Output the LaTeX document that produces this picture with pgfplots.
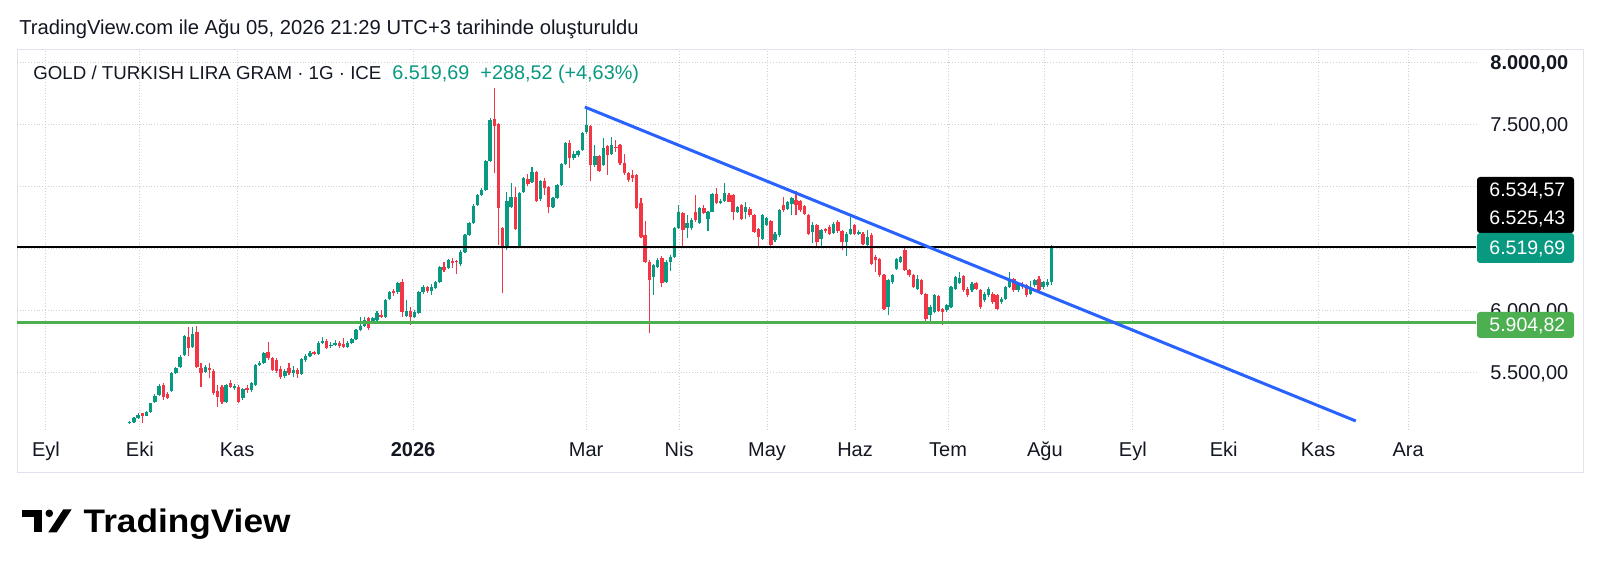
\documentclass[border=0pt]{standalone}
\usepackage{fontspec}
\setmainfont{Liberation Sans}
\usepackage{pgfplots}
\usepackage{pgfplotstable}
\pgfplotsset{compat=1.18}
\definecolor{tvgreen}{RGB}{8,153,129}
\definecolor{tvred}{RGB}{242,54,69}
\definecolor{tvblue}{RGB}{41,98,255}
\definecolor{hgreen}{RGB}{76,175,80}
\definecolor{tvtext}{RGB}{19,23,34}
\definecolor{gridc}{RGB}{205,208,216}
\definecolor{framec}{RGB}{224,227,235}

% up (green) candles: index open high low close
\pgfplotstableread{
i o h l c
20 5094 5115 5090 5108
21 5108 5145 5100 5135
22 5135 5175 5130 5162
24 5156 5195 5150 5188
25 5188 5262 5180 5255
26 5270 5330 5262 5317
27 5323 5410 5318 5395
30 5358 5510 5350 5503
31 5497 5545 5490 5537
32 5546 5645 5540 5632
33 5645 5810 5640 5798
35 5707 5874 5700 5812
38 5511 5565 5500 5551
43 5269 5410 5260 5403
45 5376 5410 5365 5395
47 5296 5380 5285 5368
49 5363 5425 5350 5417
50 5403 5575 5395 5565
51 5565 5595 5555 5584
52 5578 5670 5570 5659
57 5475 5535 5457 5520
59 5500 5560 5470 5525
61 5495 5620 5480 5610
62 5605 5650 5590 5640
63 5640 5675 5630 5664
65 5655 5755 5648 5745
66 5745 5790 5735 5761
68 5715 5750 5705 5728
69 5725 5770 5715 5740
72 5712 5755 5700 5745
73 5740 5785 5730 5774
74 5774 5855 5765 5845
75 5845 5954 5835 5880
76 5880 5950 5870 5930
78 5905 5955 5895 5940
79 5925 6000 5915 5987
81 5955 6100 5945 6089
82 6100 6165 6085 6156
84 6150 6237 6140 6229
86 5960 6090 5950 6000
88 5955 6010 5940 5990
89 5985 6165 5975 6150
90 6150 6210 6140 6196
92 6160 6220 6130 6190
93 6183 6240 6175 6231
94 6231 6360 6225 6352
96 6349 6420 6340 6411
99 6376 6490 6365 6478
100 6478 6620 6470 6613
101 6613 6715 6605 6707
102 6707 6860 6700 6849
103 6855 6945 6845 6935
104 6935 6990 6925 6976
105 6976 7220 6970 7209
106 7209 7560 7200 7540
110 6505 6960 6495 6887
111 6841 7029 6830 6922
113 6520 6960 6505 6949
114 6962 7080 6950 7070
116 7043 7164 7035 7124
118 6900 7060 6890 7050
121 6841 6920 6830 6909
122 6909 7025 6900 7016
123 7016 7195 7005 7183
124 7183 7365 7175 7352
126 7231 7290 7215 7270
127 7255 7300 7240 7290
128 7298 7440 7290 7433
129 7440 7645 7430 7500
131 7175 7340 7165 7250
133 7180 7395 7170 7315
135 7265 7400 7255 7340
145 6277 6380 6130 6371
146 6358 6425 6345 6411
148 6237 6410 6225 6398
149 6398 6450 6320 6438
150 6438 6680 6430 6667
151 6667 6855 6660 6801
153 6667 6775 6587 6707
154 6667 6750 6655 6734
156 6707 6840 6700 6828
158 6740 6810 6645 6801
159 6801 6950 6795 6941
161 6868 6900 6860 6887
162 6887 7030 6880 6949
165 6801 6850 6790 6841
167 6798 6878 6744 6838
171 6582 6780 6575 6771
172 6695 6760 6685 6749
174 6569 6635 6560 6623
175 6609 6820 6600 6811
177 6825 6890 6815 6878
178 6865 6920 6771 6910
183 6636 6717 6550 6690
185 6583 6660 6523 6650
188 6631 6715 6620 6703
191 6556 6635 6443 6623
192 6623 6757 6615 6663
194 6623 6650 6610 6640
196 6534 6650 6525 6596
201 6032 6255 5964 6247
202 6233 6300 6220 6287
203 6341 6430 6330 6421
204 6395 6445 6385 6435
208 6180 6287 6170 6260
211 5964 6045 5897 6032
212 5991 6135 5980 6126
215 6005 6055 5995 6045
216 6032 6200 6025 6193
217 6180 6280 6170 6273
218 6228 6314 6220 6266
221 6166 6230 6155 6220
224 6085 6150 6075 6139
225 6126 6190 6115 6180
228 6072 6110 6060 6099
229 6099 6200 6090 6193
230 6193 6314 6185 6260
232 6166 6230 6155 6220
235 6139 6240 6125 6193
236 6206 6260 6195 6247
238 6193 6245 6180 6233
239 6206 6260 6195 6231
240 6231 6534.57 6210 6519.69
}\up

% down (red) candles: index open high low close
\pgfplotstableread{
i o h l c
23 5175 5180 5095 5153
28 5403 5420 5285 5310
29 5330 5345 5290 5300
34 5788 5874 5637 5699
36 5833 5880 5540 5546
37 5538 5578 5390 5503
39 5538 5578 5457 5524
40 5519 5530 5320 5336
41 5355 5403 5228 5309
42 5390 5400 5250 5269
44 5417 5440 5380 5390
46 5390 5400 5255 5269
48 5382 5400 5340 5363
53 5672 5752 5605 5618
54 5618 5630 5515 5524
55 5605 5620 5500 5520
56 5530 5560 5455 5470
58 5540 5580 5480 5500
60 5525 5540 5462 5490
64 5667 5675 5645 5655
67 5755 5775 5690 5700
70 5740 5760 5705 5718
71 5730 5780 5700 5712
77 5940 5950 5845 5860
80 5970 6010 5945 5955
83 6165 6175 6120 6143
85 6237 6260 5950 5990
87 6000 6030 5887 5950
91 6196 6205 6145 6160
95 6357 6397 6317 6330
97 6405 6425 6345 6386
98 6403 6410 6295 6392
107 7548 7795 7110 7494
108 7505 7520 6532 6828
109 6667 6680 6142 6505
112 6922 7000 6650 6661
115 7064 7102 7010 7021
117 7124 7130 6880 6887
119 7050 7075 6935 6990
120 7002 7010 6787 6841
125 7357 7375 7150 7231
130 7490 7500 7050 7175
132 7250 7260 7120 7130
134 7330 7340 7100 7260
136 7325 7380 7285 7312
137 7340 7350 7180 7190
138 7190 7270 7100 7110
139 7110 7120 7040 7056
140 7097 7137 7043 7070
141 7097 7105 6820 6828
142 6868 6908 6590 6600
143 6613 6725 6390 6398
144 6398 6410 5820 6250
147 6425 6445 6190 6223
152 6788 6800 6505 6653
155 6800 6936 6720 6734
157 6828 6855 6780 6788
160 6941 6990 6860 6868
163 6936 6950 6875 6882
164 6936 6945 6730 6801
166 6851 6860 6735 6744
168 6824 6835 6760 6771
169 6771 6780 6625 6636
170 6663 6670 6523 6596
173 6722 6730 6520 6529
176 6857 6918 6800 6811
179 6892 6964 6771 6857
180 6884 6895 6800 6811
181 6846 6855 6775 6784
182 6771 6780 6615 6623
184 6690 6700 6523 6556
186 6658 6670 6630 6642
187 6677 6690 6610 6623
189 6717 6730 6630 6642
190 6642 6650 6488 6556
193 6690 6700 6610 6623
195 6623 6635 6530 6543
197 6615 6625 6370 6381
198 6435 6454 6314 6408
199 6421 6430 6275 6287
200 6287 6295 6005 6018
205 6489 6516 6320 6327
206 6327 6335 6275 6287
207 6287 6295 6185 6193
209 6247 6255 6130 6139
210 6139 6145 5897 5938
213 6120 6130 5990 5997
214 6018 6025 5889 5991
219 6282 6290 6155 6166
220 6180 6190 6115 6126
222 6228 6235 6170 6180
223 6166 6175 6020 6032
226 6139 6150 6060 6072
227 6126 6135 6005 6018
231 6260 6270 6155 6166
233 6220 6230 6180 6193
234 6206 6215 6115 6126
237 6260 6280 6155 6166
}\dn

\begin{document}
\begin{tikzpicture}[x=0.5pt,y=0.5pt]
\path[use as bounding box, fill=white] (0,0) rectangle (1600,573);
\draw[framec, line width=0.5pt] (17,101) rectangle (1583,523);

\begin{axis}[
  at={(8.5pt,71.5pt)}, anchor=south west,
  scale only axis, width=729.5pt, height=190pt,
  xmin=-6.92, xmax=341.3, ymin=5040.3, ymax=8104.8,
  axis line style={draw=none}, major tick length=0pt,
  xtick={0,22.4,45.6,87.6,128.9,151.1,172.1,193.1,215.3,238.4,259.4,281.1,303.6,325.1},
  xticklabels={Eyl,Eki,Kas,\textbf{2026},Mar,Nis,May,Haz,Tem,Ağu,Eyl,Eki,Kas,Ara},
  ytick={5500,6000,6500,7000,7500,8000},
  yticklabels={{5.500,00},{6.000,00},{},{},{7.500,00},{\textbf{8.000,00}}},
  yticklabel pos=right,
  xmajorgrids, ymajorgrids,
  major grid style={densely dotted, draw=gridc, line width=0.5pt},
  ticklabel style={font=\fontsize{10}{12}\selectfont, text=tvtext, inner sep=0pt},
  xticklabel style={anchor=base, yshift=-13pt},
  yticklabel style={anchor=base west, xshift=7pt, yshift=-3.5pt},
]
% wicks
\addplot[draw=none, mark=none, forget plot,
  error bars/.cd, y dir=plus, y explicit, error mark=none,
  error bar style={draw=tvgreen, line width=0.55pt}]
  table[x=i, y=l, y error expr=\thisrow{h}-\thisrow{l}] {\up};
\addplot[draw=none, mark=none, forget plot,
  error bars/.cd, y dir=plus, y explicit, error mark=none,
  error bar style={draw=tvred, line width=0.55pt}]
  table[x=i, y=l, y error expr=\thisrow{h}-\thisrow{l}] {\dn};
% bodies
\addplot[draw=none, mark=none, forget plot,
  error bars/.cd, y dir=plus, y explicit, error mark=none,
  error bar style={draw=tvgreen, line width=1.7pt}]
  table[x=i, y=o, y error expr={max(\thisrow{c}-\thisrow{o},8)}] {\up};
\addplot[draw=none, mark=none, forget plot,
  error bars/.cd, y dir=plus, y explicit, error mark=none,
  error bar style={draw=tvred, line width=1.7pt}]
  table[x=i, y=c, y error expr={max(\thisrow{o}-\thisrow{c},8)}] {\dn};
% horizontal levels and trend line
\addplot[black, line width=1pt, forget plot] coordinates {(-6.92,6519.69) (341.3,6519.69)};
\addplot[hgreen, line width=1.3pt, forget plot] coordinates {(-6.92,5904.82) (341.3,5904.82)};
\addplot[tvblue, line width=1.5pt, forget plot] coordinates {(128.6,7645) (312.6,5113)};
\end{axis}

% header
\node[anchor=base west, inner sep=0pt, text=tvtext, font=\fontsize{10.1}{12}\selectfont] at (19,538.5)
  {TradingView.com ile Ağu 05, 2026 21:29 UTC+3 tarihinde oluşturuldu};
\node[anchor=base west, inner sep=0pt, text=tvtext, font=\fontsize{9.35}{11}\selectfont] at (33,493)
  {GOLD / TURKISH LIRA GRAM · 1G · ICE};
\node[anchor=base west, inner sep=0pt, text=tvgreen, font=\fontsize{9.9}{11}\selectfont] at (392,493)
  {6.519,69\ \ +288,52 (+4,63\%)};

% price label boxes
\fill[black, rounded corners=1.5pt] (1477,340) rectangle (1574,396);
\node[anchor=base west, inner sep=0pt, text=white, font=\fontsize{9.75}{11}\selectfont] at (1489,376) {6.534,57};
\node[anchor=base west, inner sep=0pt, text=white, font=\fontsize{9.75}{11}\selectfont] at (1489,348) {6.525,43};
\fill[tvgreen, rounded corners=1.5pt] (1477,310) rectangle (1574,340);
\node[anchor=base west, inner sep=0pt, text=white, font=\fontsize{9.75}{11}\selectfont] at (1489,318) {6.519,69};
\fill[hgreen, rounded corners=1.5pt] (1477,235) rectangle (1574,261);
\node[anchor=base west, inner sep=0pt, text=white, font=\fontsize{9.75}{11}\selectfont] at (1489,241) {5.904,82};

% TradingView logo
\fill[black] (21.7,63) rectangle (41.7,56.3);
\fill[black] (34,63) rectangle (41.7,40.7);
\fill[black] (49.3,59.7) circle (3.8);
\fill[black] (48.3,40.7) -- (56.7,40.7) -- (71.7,63.7) -- (63.3,63.7) -- cycle;
\node[anchor=base west, inner sep=0pt, text=black, font=\fontsize{16.3}{18}\selectfont\bfseries] at (83.3,40.7)
  {\scalebox{1.08}[1]{TradingView}};
\end{tikzpicture}
\end{document}
